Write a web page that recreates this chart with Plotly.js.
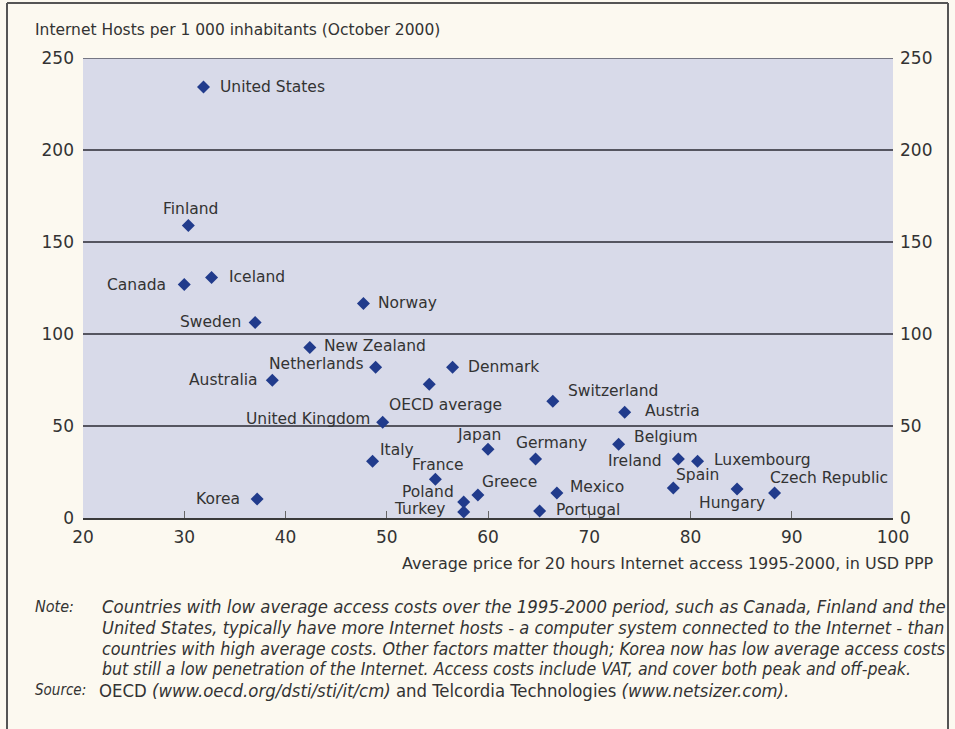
<!DOCTYPE html>
<html><head><meta charset="utf-8">
<script src="https://cdn.plot.ly/plotly-3.0.1.min.js"></script>
<style>html,body{margin:0;padding:0;background:#fcf9f0}#chart{width:955px;height:729px}</style>
</head><body><div id="chart"></div>
<script>
// ---- data ----
const countries = ["United States","Finland","Canada","Iceland","Norway","Sweden","New Zealand",
  "Netherlands","Denmark","Australia","OECD average","United Kingdom","Switzerland","Austria",
  "Japan","Italy","Germany","Belgium","Ireland","Luxembourg","France","Korea","Greece","Poland",
  "Turkey","Mexico","Portugal","Spain","Hungary","Czech Republic"];
const price = [31.9,30.4,30.0,32.7,47.7,37.0,42.4,48.9,56.5,38.7,54.2,49.6,66.4,73.5,
  60.0,48.6,64.7,72.9,78.8,80.7,54.8,37.2,59.0,57.6,57.6,66.8,65.1,78.3,84.6,88.3];
const hosts = [234.3,158.9,126.9,130.7,116.6,106.3,92.7,81.9,81.9,74.8,72.7,52.1,63.4,57.5,
  37.4,30.9,32.0,40.1,32.0,30.9,21.1,10.3,12.5,8.7,3.3,13.6,3.8,16.3,15.7,13.6];
const xTickVals = [20,30,40,50,60,70,80,90,100];
const yTickVals = [0,50,100,150,200,250];

const yTitle = "Internet Hosts per 1 000 inhabitants (October 2000)";
const xTitle = "Average price for 20 hours Internet access 1995-2000, in USD PPP";
const noteLines = [
  "Countries with low average access costs over the 1995-2000 period, such as Canada, Finland and the",
  "United States, typically have more Internet hosts - a computer system connected to the Internet - than",
  "countries with high average costs. Other factors matter though; Korea now has low average access costs",
  "but still a low penetration of the Internet. Access costs include VAT, and cover both peak and off-peak."
];
const sourcePlain = "OECD (www.oecd.org/dsti/sti/it/cm) and Telcordia Technologies (www.netsizer.com).";
const sourceText = "OECD <i>(www.oecd.org/dsti/sti/it/cm)</i> and Telcordia Technologies <i>(www.netsizer.com).</i>";

// ---- label placement (layout only): [xanchor, xshift px, yshift px] ----
const labelPlacement = {
  "United States":["left",15,0], "Finland":["center",2,17], "Canada":["right",-16,0],
  "Iceland":["left",15,1], "Norway":["left",13,0], "Sweden":["right",-12,0],
  "New Zealand":["left",12,1], "Netherlands":["right",-11,3], "Denmark":["left",13,0],
  "Australia":["right",-12,0], "OECD average":["left",-42,-21], "United Kingdom":["right",-11,3],
  "Switzerland":["left",13,10], "Austria":["left",18,1], "Japan":["right",15,14],
  "Italy":["left",5,11], "Germany":["center",16,16], "Belgium":["left",13,7],
  "Ireland":["right",-14,-2], "Luxembourg":["left",14,1], "France":["center",3,14],
  "Korea":["right",-15,0], "Greece":["left",2,13], "Poland":["right",-8,10],
  "Turkey":["right",-17,3], "Mexico":["left",11,6], "Portugal":["left",14,1],
  "Spain":["left",1,13], "Hungary":["center",-5,-14], "Czech Republic":["left",-7,15]
};

// ---- geometry helpers (plot area in px) ----
const W = 955, H = 729, L = 83, R = 893, T = 58, B = 518;
const px = x => (x - L) / (R - L);
const py = y => (B - y) / (B - T);

const FONT = "DejaVu Sans, Liberation Sans, Arial, sans-serif";
const NOTEFONT = "DejaVu Sans Condensed, DejaVu Sans, Liberation Sans, sans-serif";
const TXT = "#333333";

// fit each note line to the reference text block width
const ctx = document.createElement("canvas").getContext("2d");
function textWidth(t, size) {
  ctx.font = "italic " + size + "px 'DejaVu Sans Condensed', 'DejaVu Sans', sans-serif";
  return ctx.measureText(t).width;
}
const noteLeft = 100, noteRights = [944, 943, 944, 910];
const noteSizes = noteLines.map((t,k) => 18 * (noteRights[k] - noteLeft) / textWidth(t, 18));
const sourceLeft = 97, sourceRight = 790;
const sourceSize = 18 * (sourceRight - sourceLeft) / textWidth(sourcePlain, 18);

const traces = [
  { type:"scatter", mode:"markers", x:price, y:hosts, text:countries,
    marker:{symbol:"diamond", size:10, color:"#213b8c"}, hoverinfo:"text+x+y", showlegend:false },
  { type:"scatter", mode:"markers", x:price, y:hosts, yaxis:"y2",
    marker:{opacity:0}, hoverinfo:"skip", showlegend:false }
];

const annotations = countries.map((c,i) => {
  const p = labelPlacement[c];
  return { x:price[i], y:hosts[i], xref:"x", yref:"y", text:c, showarrow:false,
    xanchor:p[0], yanchor:"middle", xshift:p[1], yshift:p[2],
    font:{family:FONT, size:15.5, color:TXT} };
});
annotations.push({ xref:"paper", yref:"paper", x:px(33), y:py(30), xanchor:"left", yanchor:"middle",
  text:yTitle, showarrow:false, font:{family:FONT, size:15.5, color:TXT} });
annotations.push({ xref:"paper", yref:"paper", x:px(936), y:py(563), xanchor:"right", yanchor:"middle",
  text:xTitle, showarrow:false, font:{family:FONT, size:16, color:TXT} });
annotations.push({ xref:"paper", yref:"paper", x:px(33), y:py(606), xanchor:"left", yanchor:"middle",
  text:"<i>Note:</i>", showarrow:false, font:{family:NOTEFONT, size:16, color:TXT} });
noteLines.forEach((t,k) => annotations.push({ xref:"paper", yref:"paper", x:px(noteLeft), y:py(606+21*k),
  xanchor:"left", yanchor:"middle", text:"<i>"+t+"</i>", showarrow:false,
  font:{family:NOTEFONT, size:noteSizes[k], color:TXT} }));
annotations.push({ xref:"paper", yref:"paper", x:px(33), y:py(690), xanchor:"left", yanchor:"middle",
  text:"<i>Source:</i>", showarrow:false, font:{family:NOTEFONT, size:15, color:TXT} });
annotations.push({ xref:"paper", yref:"paper", x:px(sourceLeft), y:py(690), xanchor:"left", yanchor:"middle",
  text:sourceText, showarrow:false, font:{family:NOTEFONT, size:sourceSize, color:TXT} });

const frame = {color:"#555555", width:2};
const shapes = [
  {type:"line", xref:"paper", yref:"paper", x0:px(7), x1:px(7), y0:py(3), y1:py(740), line:frame},
  {type:"line", xref:"paper", yref:"paper", x0:px(948), x1:px(948), y0:py(3), y1:py(740), line:frame},
  {type:"line", xref:"paper", yref:"paper", x0:px(7), x1:px(948), y0:py(3), y1:py(3), line:frame},
  // top gridline at the axis maximum
  {type:"line", xref:"paper", yref:"y", x0:0, x1:1, y0:yTickVals[yTickVals.length-1],
    y1:yTickVals[yTickVals.length-1], line:{color:"#555560", width:1.3}}
];

const layout = {
  width:W, height:H,
  margin:{l:L, r:W-R, t:T, b:H-B, pad:0},
  paper_bgcolor:"#fcf9f0", plot_bgcolor:"#d8dae9",
  font:{family:FONT, color:TXT},
  xaxis:{range:[20,100], tickvals:xTickVals, showgrid:false, zeroline:false,
    showline:true, linecolor:"#3a3a3a", linewidth:2, ticks:"inside", ticklen:7,
    tickcolor:"#666", tickwidth:1, tickfont:{family:FONT, size:17, color:TXT},
    ticklabelstandoff:3, fixedrange:true},
  yaxis:{range:[0,250], tickvals:yTickVals, showgrid:true, gridcolor:"#555560", gridwidth:1.3,
    zeroline:false, showline:false, ticks:"", tickfont:{family:FONT, size:17, color:TXT},
    ticklabelstandoff:8, fixedrange:true},
  yaxis2:{range:[0,250], tickvals:yTickVals, overlaying:"y", side:"right", showgrid:false,
    zeroline:false, showline:false, ticks:"", tickfont:{family:FONT, size:17, color:TXT},
    ticklabelstandoff:6, fixedrange:true},
  annotations, shapes, showlegend:false
};

Plotly.newPlot("chart", traces, layout, {displayModeBar:false, staticPlot:true});
</script></body></html>
